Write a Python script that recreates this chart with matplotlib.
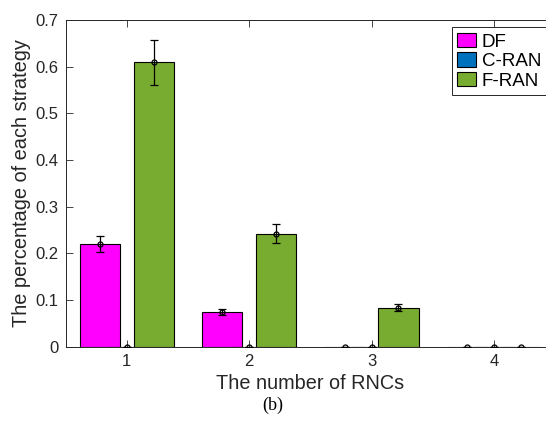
import matplotlib.pyplot as plt
import numpy as np

plt.rcParams['font.family'] = ['Liberation Sans', 'DejaVu Sans']

rncs = [1, 2, 3, 4]
strategies = ["DF", "C-RAN", "F-RAN"]
colors = ["#FF00FF", "#0072BD", "#77AC30"]

# mean percentage per strategy, one value per RNC count
df_mean = [0.220, 0.074, 0.0, 0.0]
cran_mean = [0.0, 0.0, 0.0, 0.0]
fran_mean = [0.609, 0.242, 0.084, 0.0]

# error bar half-widths
df_err = [0.018, 0.006, 0.0, 0.0]
cran_err = [0.0, 0.0, 0.0, 0.0]
fran_err = [0.049, 0.020, 0.007, 0.0]

means = [df_mean, cran_mean, fran_mean]
errs = [df_err, cran_err, fran_err]

fig = plt.figure(figsize=(5.46, 4.22), dpi=100)
ax = fig.add_axes([0.1203, 0.1784, 0.8962, 0.7742])

x = np.array(rncs, dtype=float)
offsets = [-0.22, 0.0, 0.22]
width = 0.33
for name, col, off, m, e in zip(strategies, colors, offsets, means, errs):
    ax.bar(x + off, m, width, color=col, edgecolor='black', linewidth=0.8, label=name)
    ax.errorbar(x + off, m, yerr=e, fmt='o', color='black', ecolor='black',
                elinewidth=0.9, capsize=3, capthick=0.9, markersize=3.6,
                mfc='none', mec='black', mew=0.9, zorder=5)

ax.set_xlim(0.5, 4.5)
ax.set_ylim(0, 0.7)
ax.set_xticks(rncs)
ax.set_yticks(np.arange(0, 0.71, 0.1))
ax.set_yticklabels(["0", "0.1", "0.2", "0.3", "0.4", "0.5", "0.6", "0.7"])
ax.tick_params(direction='in', top=True, right=True, length=5, width=0.6,
               labelsize=12, colors='#262626', pad=5)
for s in ax.spines.values():
    s.set_linewidth(0.7)
    s.set_color('#262626')

ax.set_xlabel("The number of RNCs", fontsize=14.3, color='#262626', labelpad=4)
ax.set_ylabel("The percentage of each strategy", fontsize=14.4, color='#262626', labelpad=3)

leg = fig.legend(loc='upper left', bbox_to_anchor=(451.7 / 546, 1 - 27.3 / 422),
                 fontsize=13.5, handlelength=1.0, handleheight=0.8,
                 handletextpad=0.3, labelspacing=0.1, borderpad=0.3,
                 borderaxespad=0, fancybox=False, framealpha=1)
leg.get_frame().set_edgecolor('#262626')
leg.get_frame().set_linewidth(0.7)

fig.text(0.5, 1 - 405 / 422, "(b)", ha='center', va='center',
         fontsize=13, family=['Liberation Serif', 'DejaVu Serif'])

fig.savefig("out.png", dpi=100)
